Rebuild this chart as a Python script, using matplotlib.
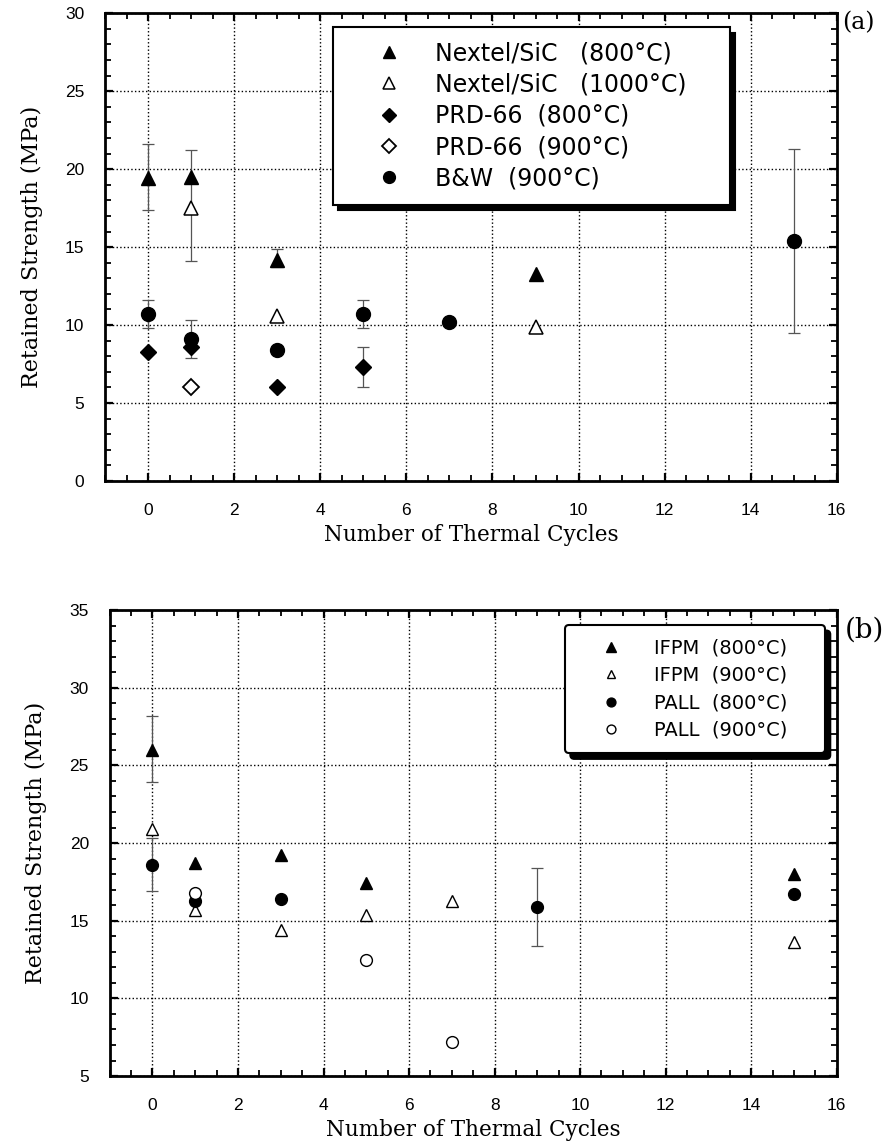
import numpy as np
import matplotlib
matplotlib.use("Agg")
from matplotlib import pyplot as plt
from matplotlib.ticker import MultipleLocator

# ---- panel (a) data ----
a_nextel800_x = [0, 1, 3, 9]
a_nextel800_y = [19.4, 19.5, 14.2, 13.3]
a_nextel1000_x = [1, 3, 9]
a_nextel1000_y = [17.5, 10.6, 9.9]
a_prd800_x = [0, 1, 3, 5]
a_prd800_y = [8.3, 8.6, 6.0, 7.3]
a_prd900_x = [1]
a_prd900_y = [6.0]
a_bw900_x = [0, 1, 3, 5, 7, 15]
a_bw900_y = [10.7, 9.1, 8.4, 10.7, 10.2, 15.4]

# error bars (x, low, high)
a_err_x = [0, 1, 3, 0, 1, 5, 5, 15]
a_err_lo = [17.4, 14.1, 13.7, 9.8, 7.9, 9.8, 6.0, 9.5]
a_err_hi = [21.6, 21.2, 14.9, 11.6, 10.3, 11.6, 8.6, 21.3]

# ---- panel (b) data ----
b_ifpm800_x = [0, 1, 3, 5, 15]
b_ifpm800_y = [26.0, 18.7, 19.2, 17.4, 18.0]
b_ifpm900_x = [0, 1, 3, 5, 7, 15]
b_ifpm900_y = [20.9, 15.7, 14.4, 15.4, 16.3, 13.6]
b_pall800_x = [0, 1, 3, 9, 15]
b_pall800_y = [18.6, 16.3, 16.4, 15.9, 16.7]
b_pall900_x = [1, 5, 7]
b_pall900_y = [16.8, 12.5, 7.2]

b_err_x = [0, 0, 9]
b_err_lo = [23.9, 16.9, 13.4]
b_err_hi = [28.2, 20.3, 18.4]

SERIF = "DejaVu Serif"
SANS = "Liberation Sans"
LEGSANS = "DejaVu Sans"

fig = plt.figure(figsize=(8.92, 11.44), dpi=100)
ax1 = fig.add_axes([0.118, 0.5795, 0.820, 0.409])
ax2 = fig.add_axes([0.123, 0.0594, 0.815, 0.4073])


def style_axes(ax, ylo, yhi):
    ax.set_xlim(-1, 16)
    ax.set_ylim(ylo, yhi)
    ax.xaxis.set_major_locator(MultipleLocator(2))
    ax.xaxis.set_minor_locator(MultipleLocator(0.5))
    ax.yaxis.set_major_locator(MultipleLocator(5))
    ax.yaxis.set_minor_locator(MultipleLocator(1))
    ax.tick_params(which="both", direction="in", top=True, right=True,
                   labelsize=12.5, labelfontfamily=SANS)
    ax.tick_params(which="major", length=6, width=1.6)
    ax.tick_params(which="minor", length=4, width=1.3)
    ax.tick_params(axis="y", pad=15)
    ax.tick_params(axis="x", pad=16)
    for sp in ax.spines.values():
        sp.set_linewidth(2)
    ax.grid(True, which="major", ls=":", color="black", lw=1)
    ax.set_axisbelow(True)
    ax.set_xlabel("Number of Thermal Cycles", family=SERIF, fontsize=15.5, labelpad=4)
    ax.set_ylabel("Retained Strength (MPa)", family=SERIF, fontsize=16, labelpad=16)


style_axes(ax1, 0, 30)
style_axes(ax2, 5, 35)

# errorbars
for ax, ex, lo, hi in [(ax1, a_err_x, a_err_lo, a_err_hi), (ax2, b_err_x, b_err_lo, b_err_hi)]:
    ex = np.array(ex, dtype=float)
    lo = np.array(lo)
    hi = np.array(hi)
    mid = (lo + hi) / 2
    ax.errorbar(ex, mid, yerr=[mid - lo, hi - mid], fmt="none", ecolor="#555555",
                elinewidth=0.9, capsize=4, capthick=0.9, zorder=2)

# panel (a) markers
ax1.plot(a_nextel800_x, a_nextel800_y, "^", color="black", ms=10, ls="none",
         label="Nextel/SiC   (800°C)", zorder=3)
ax1.plot(a_nextel1000_x, a_nextel1000_y, "^", mfc="white", mec="black", mew=1.1, ms=10,
         ls="none", label="Nextel/SiC   (1000°C)", zorder=3)
ax1.plot(a_prd800_x, a_prd800_y, "D", color="black", ms=8.5, ls="none",
         label="PRD-66  (800°C)", zorder=3)
ax1.plot(a_prd900_x, a_prd900_y, "D", mfc="white", mec="black", mew=1.3, ms=8.5, ls="none",
         label="PRD-66  (900°C)", zorder=3)
ax1.plot(a_bw900_x, a_bw900_y, "o", color="black", ms=10, ls="none",
         label="B&W  (900°C)", zorder=3)

# panel (b) markers
ax2.plot(b_ifpm800_x, b_ifpm800_y, "^", color="black", ms=9, ls="none",
         label="IFPM  (800°C)", zorder=3)
ax2.plot(b_ifpm900_x, b_ifpm900_y, "^", mfc="white", mec="black", mew=1.0, ms=8.5,
         ls="none", label="IFPM  (900°C)", zorder=3)
ax2.plot(b_pall800_x, b_pall800_y, "o", color="black", ms=8.5, ls="none",
         label="PALL  (800°C)", zorder=3)
ax2.plot(b_pall900_x, b_pall900_y, "o", mfc="white", mec="black", mew=1.0, ms=8.5,
         ls="none", label="PALL  (900°C)", zorder=3)

shadow = {"ox": 4, "oy": -4, "color": "black", "alpha": 1}

leg1 = ax1.legend(loc="upper left", bbox_to_anchor=(0.311, 0.5, 0.543, 0.470),
                  mode="expand", borderaxespad=0,
                  prop={"family": LEGSANS, "size": 17}, markerscale=0.85, handlelength=3.6,
                  handletextpad=0.15, borderpad=0.6, labelspacing=0.31,
                  fancybox=False, framealpha=1, edgecolor="black", shadow=shadow)
leg1.get_frame().set_linewidth(1.5)

leg2 = ax2.legend(loc="upper left", bbox_to_anchor=(0.626, 0.5, 0.3575, 0.468),
                  mode="expand", borderaxespad=0,
                  prop={"family": LEGSANS, "size": 14}, markerscale=0.75, handlelength=3.4,
                  handletextpad=0.5, borderpad=0.7, labelspacing=0.43,
                  fancybox=True, framealpha=1, edgecolor="black", shadow=shadow)
leg2.get_frame().set_linewidth(1.5)

fig.text(0.944, 0.980, "(a)", family=SERIF, fontsize=17, ha="left", va="center")
fig.text(0.947, 0.449, "(b)", family=SERIF, fontsize=20, ha="left", va="center")

fig.savefig("out.png", dpi=100)
